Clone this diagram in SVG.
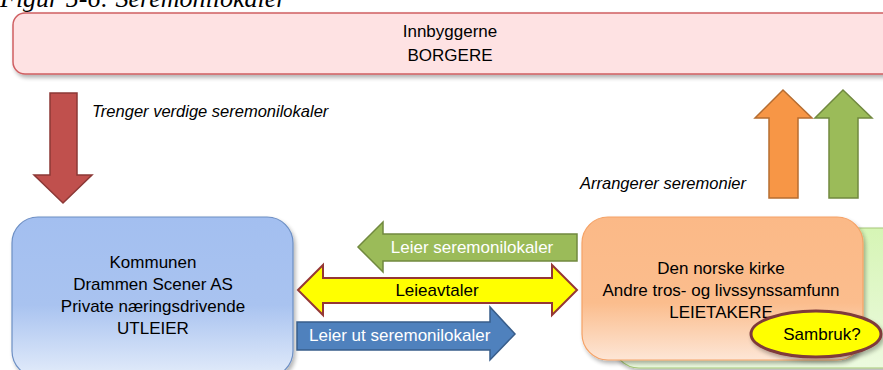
<svg xmlns="http://www.w3.org/2000/svg" width="883" height="370" viewBox="0 0 883 370">
<defs>
<linearGradient id="gBlue" x1="0" y1="0" x2="0" y2="1">
<stop offset="0" stop-color="#a3bff0"/>
<stop offset="0.55" stop-color="#a9c3f0"/>
<stop offset="1" stop-color="#e3ecfa"/>
</linearGradient>
<linearGradient id="gOrange" x1="0" y1="0" x2="0" y2="1">
<stop offset="0" stop-color="#fbb987"/>
<stop offset="0.6" stop-color="#fbbd8d"/>
<stop offset="1" stop-color="#fde6d6"/>
</linearGradient>
<linearGradient id="gGreen" x1="0" y1="0" x2="0" y2="1">
<stop offset="0" stop-color="#d6f5b5"/>
<stop offset="1" stop-color="#ecfadf"/>
</linearGradient>
<filter id="sh" x="-10%" y="-10%" width="130%" height="130%">
<feGaussianBlur in="SourceAlpha" stdDeviation="2"/>
<feOffset dx="2" dy="3" result="b"/>
<feComponentTransfer><feFuncA type="linear" slope="0.3"/></feComponentTransfer>
<feMerge><feMergeNode/><feMergeNode in="SourceGraphic"/></feMerge>
</filter>
</defs>
<style>
text{font-family:"Liberation Sans",Arial,sans-serif;font-size:17px;fill:#000}
.c{text-anchor:middle}
.it{font-style:italic;font-size:16.5px}
.w{fill:#fff}
.title{font-family:"Liberation Serif","Times New Roman",serif;font-style:italic;font-size:26px}
</style>
<text class="title" x="0" y="7">Figur 5-6: Seremonilokaler</text>

<g id="borgere">
<rect x="13" y="13" width="890" height="61" rx="12" fill="#fee2e3" stroke="#cf5f62" stroke-width="1.5" filter="url(#sh)"/>
<text class="c" x="450" y="37">Innbyggerne</text>
<text class="c" x="450" y="61">BORGERE</text>
</g>

<g id="utleier">
<rect x="12" y="217" width="281" height="160" rx="26" fill="url(#gBlue)" stroke="#6d8fc4" stroke-width="1.2" filter="url(#sh)"/>
<text class="c" x="153" y="268">Kommunen</text>
<text class="c" x="153" y="290">Drammen Scener AS</text>
<text class="c" x="153" y="312">Private næringsdrivende</text>
<text class="c" x="153" y="334">UTLEIER</text>
</g>

<g id="leietakere">
<rect x="613" y="228" width="300" height="140" rx="26" fill="url(#gGreen)" stroke="#a6c878" stroke-width="1.2" filter="url(#sh)"/>
<rect x="582" y="217" width="281" height="143" rx="26" fill="url(#gOrange)" stroke="#f5a266" stroke-width="1.2" filter="url(#sh)"/>
<text class="c" x="721" y="274">Den norske kirke</text>
<text class="c" x="721" y="296">Andre tros- og livssynssamfunn</text>
<text class="c" x="721" y="318">LEIETAKERE</text>
</g>

<g id="sambruk">
<ellipse cx="816" cy="334" rx="65" ry="23" fill="#ffff00" stroke="#7f3a3a" stroke-width="3" filter="url(#sh)"/>
<text class="c" x="822" y="340">Sambruk?</text>
</g>

<g id="connectors">
<polygon points="50,93 77,93 77,175 92,175 63,203 34,175 50,175" fill="#c0504d" stroke="#8c3836" stroke-width="1.5"/>
<polygon points="769,198 798,198 798,118 812,118 783,90 755,118 769,118" fill="#f79646" stroke="#b66d31" stroke-width="1.5"/>
<polygon points="829,198 858,198 858,118 872,118 843,90 815,118 829,118" fill="#9bbb59" stroke="#71893f" stroke-width="1.5"/>
<polygon points="577,234 577,261 383,261 383,272 358,247 383,222 383,234" fill="#9bbb59" stroke="#71893f" stroke-width="1.5"/>
<polygon points="298,290 323,265 323,278 552,278 552,265 577,290 552,315 552,303 323,303 323,315" fill="#ffff00" stroke="#953735" stroke-width="2"/>
<polygon points="297,322 490,322 490,307 515,334 490,360 490,350 297,350" fill="#4f81bd" stroke="#385d8a" stroke-width="1.5"/>
</g>

<g id="labels">
<text class="it" x="92" y="117">Trenger verdige seremonilokaler</text>
<text class="it" x="580" y="189">Arrangerer seremonier</text>
<text class="c w" x="472" y="253">Leier seremonilokaler</text>
<text class="c" x="437" y="296">Leieavtaler</text>
<text class="w" x="309" y="341">Leier ut seremonilokaler</text>
</g>
</svg>
